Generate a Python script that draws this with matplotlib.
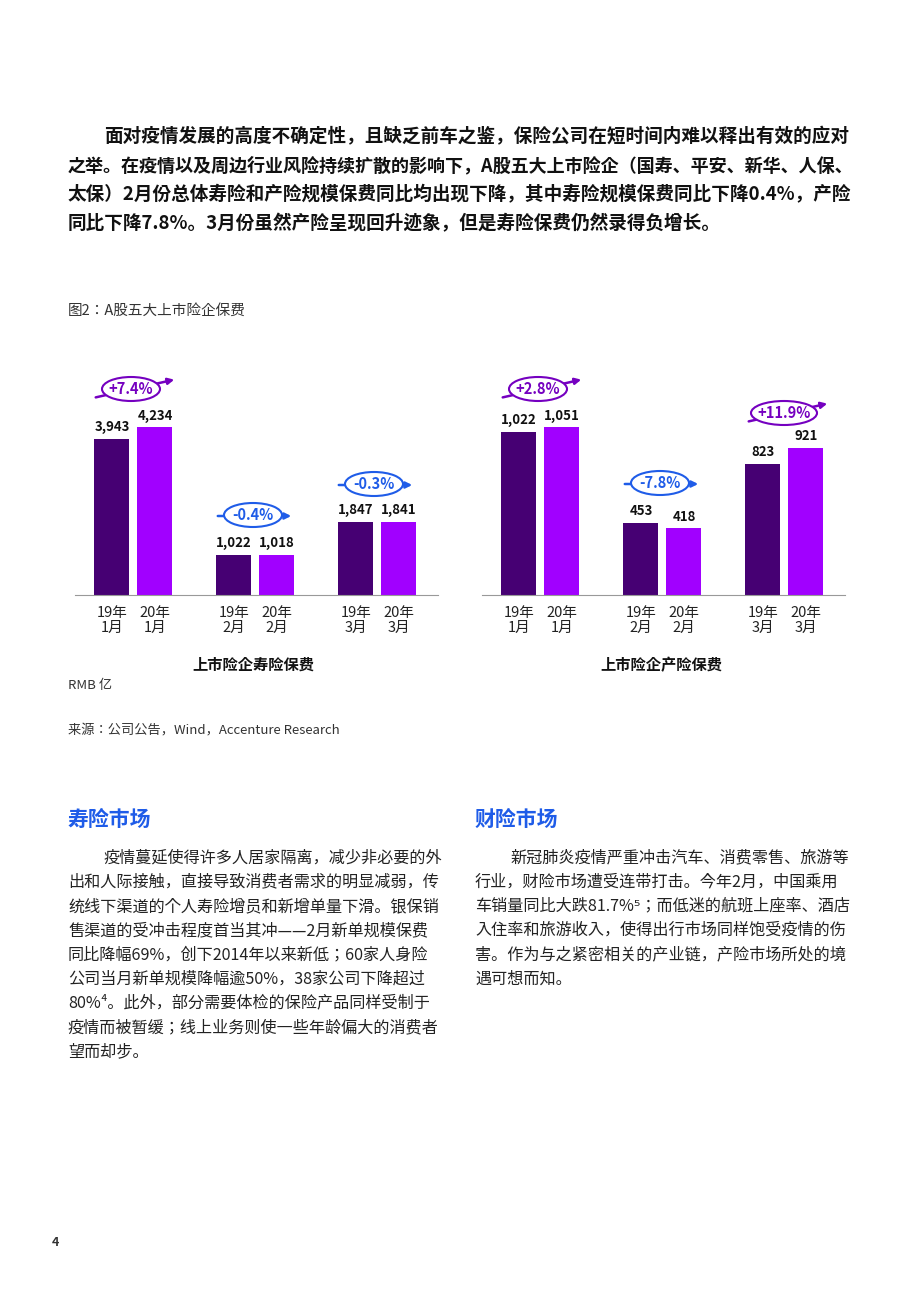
import matplotlib
matplotlib.use("Agg")
import matplotlib.pyplot as plt
from matplotlib import font_manager
from matplotlib.patches import Ellipse, FancyArrowPatch

names = {f.name for f in font_manager.fontManager.ttflist}
cjk = [n for n in ["Noto Sans CJK SC", "Noto Sans CJK JP", "Noto Sans CJK TC", "Noto Sans CJK KR"] if n in names]
plt.rcParams["font.family"] = cjk + ["DejaVu Sans"]

W, H = 920, 1302
groups = ["1月", "2月", "3月"]
years = ["19年", "20年"]
life_19 = [3943, 1022, 1847]
life_20 = [4234, 1018, 1841]
prop_19 = [1022, 453, 823]
prop_20 = [1051, 418, 921]
life_growth = ["+7.4%", "-0.4%", "-0.3%"]
prop_growth = ["+2.8%", "-7.8%", "+11.9%"]

C19, C20 = "#460073", "#a100ff"
PURPLE, BLUE = "#7500c0", "#1f5ce8"

fig = plt.figure(figsize=(W/100, H/100), dpi=100)

def fx(x): return x / W
def fy(y): return 1 - y / H

def txt(x, y, s, **kw):
    kw.setdefault("va", "center")
    fig.text(fx(x), fy(y), s, **kw)

top = ["面对疫情发展的高度不确定性，且缺乏前车之鉴，保险公司在短时间内难以释出有效的应对",
       "之举。在疫情以及周边行业风险持续扩散的影响下，A股五大上市险企（国寿、平安、新华、人保、",
       "太保）2月份总体寿险和产险规模保费同比均出现下降，其中寿险规模保费同比下降0.4%，产险",
       "同比下降7.8%。3月份虽然产险呈现回升迹象，但是寿险保费仍然录得负增长。"]
for i, s in enumerate(top):
    txt(104 if i == 0 else 68, 137 + 29*i, s, fontsize=13.4 if i != 1 else 13.0,
        fontweight="bold", color="#111")

txt(68, 311, "图2：A股五大上市险企保费", fontsize=10.5, color="#333")

def chart(x0, vals19, vals20, ymax, growth, badges, title, tcx):
    ax = fig.add_axes([fx(x0), fy(595), fx(363), 235/H])
    for g in range(3):
        for i, v in enumerate([vals19[g], vals20[g]]):
            xc = g*122 + i*43
            ax.bar(xc, v, width=35, color=[C19, C20][i])
            ax.text(xc, v + ymax*0.02, f"{v:,}", ha="center", va="bottom",
                    fontsize=9.5, fontweight="bold", color="#111")
            ax.text(xc, -ymax*0.045, f"{years[i]}\n{groups[g]}", ha="center", va="top",
                    fontsize=10.5, color="#222", linespacing=1.15)
    ax.set_xlim(-37, 326)
    ax.set_ylim(0, ymax)
    for s in ["top", "right", "left"]:
        ax.spines[s].set_visible(False)
    ax.spines["bottom"].set_color("#999")
    ax.set_xticks([]); ax.set_yticks([])
    for lab, (cx, cy, slant) in zip(growth, badges):
        col = PURPLE if lab.startswith("+") else BLUE
        w = 58 if len(lab) < 6 else 66
        if slant:
            p1, p2 = (cx-38, cy+9), (cx+46, cy-10)
        else:
            p1, p2 = (cx-38, cy+1), (cx+41, cy+1)
        fig.add_artist(FancyArrowPatch((fx(p1[0]), fy(p1[1])), (fx(p2[0]), fy(p2[1])),
                        transform=fig.transFigure, arrowstyle="-|>", mutation_scale=9,
                        color=col, lw=1.8))
        fig.add_artist(Ellipse((fx(cx), fy(cy)), fx(w), 24/H, transform=fig.transFigure,
                               facecolor="white", edgecolor=col, lw=1.5))
        txt(cx, cy, lab, ha="center", fontsize=10.5, fontweight="bold", color=col)
    txt(tcx, 665, title, ha="center", fontsize=11, fontweight="bold", color="#111")

chart(75, life_19, life_20, 235/156*3943, life_growth,
      [(131, 389, True), (253, 515, False), (374, 484, False)], "上市险企寿险保费", 253)
chart(482, prop_19, prop_20, 235/163*1022, prop_growth,
      [(538, 389, True), (660, 483, False), (784, 413, True)], "上市险企产险保费", 661)

txt(68, 685, "RMB 亿", fontsize=9.5, color="#333")
txt(68, 731, "来源：公司公告，Wind，Accenture Research", fontsize=9.5, color="#333")

txt(68, 819, "寿险市场", fontsize=15, fontweight="bold", color=BLUE)
txt(475, 819, "财险市场", fontsize=15, fontweight="bold", color=BLUE)

left = ["疫情蔓延使得许多人居家隔离，减少非必要的外",
        "出和人际接触，直接导致消费者需求的明显减弱，传",
        "统线下渠道的个人寿险增员和新增单量下滑。银保销",
        "售渠道的受冲击程度首当其冲——2月新单规模保费",
        "同比降幅69%，创下2014年以来新低；60家人身险",
        "公司当月新单规模降幅逾50%，38家公司下降超过",
        "80%⁴。此外，部分需要体检的保险产品同样受制于",
        "疫情而被暂缓；线上业务则使一些年龄偏大的消费者",
        "望而却步。"]
right = ["新冠肺炎疫情严重冲击汽车、消费零售、旅游等",
         "行业，财险市场遭受连带打击。今年2月，中国乘用",
         "车销量同比大跌81.7%⁵；而低迷的航班上座率、酒店",
         "入住率和旅游收入，使得出行市场同样饱受疫情的伤",
         "害。作为与之紧密相关的产业链，产险市场所处的境",
         "遇可想而知。"]
for i, s in enumerate(left):
    txt(104 if i == 0 else 68, 858 + 24.2*i, s, fontsize=11.6, color="#222")
for i, s in enumerate(right):
    txt(511 if i == 0 else 475, 858 + 24.2*i, s, fontsize=11.6, color="#222")

txt(52, 1242, "4", fontsize=9, fontweight="bold", color="#333")

fig.savefig("out.png", dpi=100)
